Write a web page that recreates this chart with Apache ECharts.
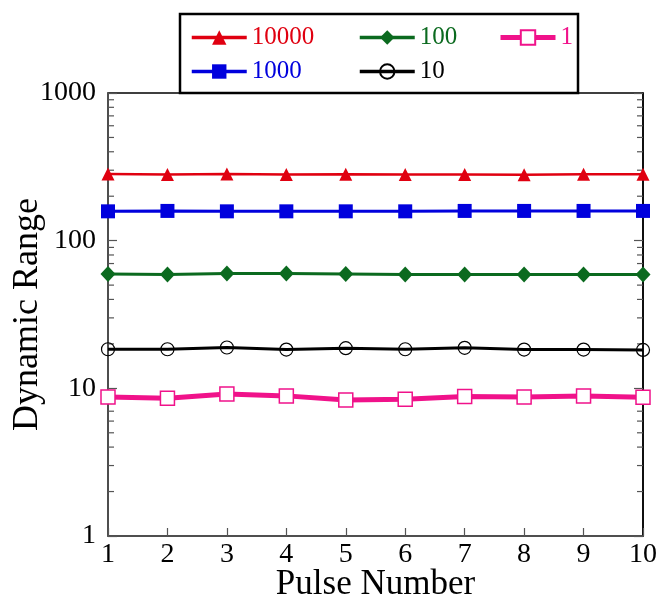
<!DOCTYPE html>
<html>
<head>
<meta charset="utf-8">
<script src="https://cdn.jsdelivr.net/npm/echarts@6/dist/echarts.min.js"></script>
<style>
  html, body { margin: 0; padding: 0; background: #fff; }
  #chart { width: 660px; height: 602px; }
</style>
</head>
<body>
<div id="chart"></div>
<script>
// pulse numbers on the x axis
const pulses = [1, 2, 3, 4, 5, 6, 7, 8, 9, 10]
// dynamic range per pulse, one list per setting
const range10000 = [283, 281, 283, 281, 282, 281, 281, 280, 282, 282]
const range1000 = [158, 159, 158, 158, 158, 158, 159, 159, 159, 159]
const range100 = [59.5, 59, 60, 60, 59.5, 59, 59, 59, 59, 59]
const range10 = [18.4, 18.4, 18.9, 18.3, 18.7, 18.4, 18.8, 18.3, 18.3, 18.2]
const range1 = [8.75, 8.57, 9.16, 8.89, 8.34, 8.44, 8.79, 8.75, 8.89, 8.71]
// minor ticks of the log axis
const minorTicks = [2, 3, 4, 5, 6, 7, 8, 9, 20, 30, 40, 50, 60, 70, 80, 90, 200, 300, 400, 500, 600, 700, 800, 900]

const FONT = 'Liberation Serif'
const AXIS_GREY = '#555'

const chart = echarts.init(document.getElementById('chart'))

// 组合 x/y 数据
const toPoints = arr => arr.map((v, i) => [pulses[i], v])

// 图例的一项
const legendItem = (name, color, width) => ({
  name: name,
  textStyle: { color: color },
  lineStyle: { width: width }
})
const legendBase = {
  orient: 'vertical',
  top: 25,
  padding: 0,
  itemWidth: 55,
  itemHeight: 18,
  itemGap: 9,
  lineStyle: { width: 3.5 },
  textStyle: { fontFamily: FONT, fontSize: 25 }
}

const lineSeries = (name, data, color, symbol, size, width, fill, border) => ({
  name: name,
  type: 'line',
  data: toPoints(data),
  symbol: symbol,
  symbolSize: size,
  showAllSymbol: true,
  lineStyle: { color: color, width: width },
  itemStyle: { color: fill || color, borderColor: color, borderWidth: border || 0, opacity: 1 },
  z: 3
})

const yAxisBase = {
  type: 'log',
  logBase: 10,
  min: 1,
  max: 1000,
  splitLine: { show: false },
  axisTick: { inside: true, length: 9, lineStyle: { color: AXIS_GREY, width: 1.2 } }
}

const option = {
  animation: false,
  backgroundColor: '#fff',
  grid: {
    left: 108,
    right: 17,
    top: 93,
    bottom: 66,
    containLabel: false,
    outerBoundsMode: 'none',
    show: true,
    borderColor: '#000',
    borderWidth: 1.5
  },
  legend: [
    Object.assign({}, legendBase, { left: 190, data: [legendItem('10000', '#e00010', 3.5), legendItem('1000', '#0000dd', 3.5)] }),
    Object.assign({}, legendBase, { left: 358, data: [legendItem('100', '#0b6a1f', 3.5), legendItem('10', '#000', 3.5)] }),
    Object.assign({}, legendBase, { left: 498, data: [legendItem('1', '#f0128a', 5)] })
  ],
  graphic: [
    {
      type: 'rect',
      shape: { x: 180, y: 14, width: 398, height: 79 },
      style: { fill: 'none', stroke: '#000', lineWidth: 2.5 },
      z: 10
    }
  ],
  xAxis: {
    type: 'value',
    min: 1,
    max: 10,
    interval: 1,
    name: 'Pulse Number',
    nameLocation: 'middle',
    nameGap: 31,
    nameMoveOverlap: false,
    nameTextStyle: { fontFamily: FONT, fontSize: 35, color: '#000' },
    splitLine: { show: false },
    axisLine: { lineStyle: { color: AXIS_GREY, width: 1.5 } },
    axisTick: { inside: true, length: 8, lineStyle: { color: AXIS_GREY, width: 1.2 } },
    axisLabel: { fontFamily: FONT, fontSize: 28, color: '#000', margin: 5 }
  },
  yAxis: [
    Object.assign({}, yAxisBase, {
      position: 'left',
      name: 'Dynamic Range',
      nameLocation: 'middle',
      nameGap: 62,
      nameMoveOverlap: false,
      nameTextStyle: { fontFamily: FONT, fontSize: 36, color: '#000' },
      axisLine: { show: true, lineStyle: { color: AXIS_GREY, width: 1.5 } },
      axisLabel: {
        fontFamily: FONT, fontSize: 28, color: '#000', margin: 12,
        formatter: v => String(Math.round(v))
      }
    }),
    Object.assign({}, yAxisBase, {
      position: 'right',
      axisLine: { show: true, lineStyle: { color: '#000', width: 1.5 } },
      axisLabel: { show: false }
    })
  ],
  series: [
    {
      // 对数轴的小刻度 (左右两侧)
      type: 'custom',
      silent: true,
      clip: false,
      z: 1,
      data: minorTicks.map(v => [1, v]),
      renderItem: (params, api) => {
        const l = api.coord([1, api.value(1)])
        const r = api.coord([10, api.value(1)])
        const style = { stroke: AXIS_GREY, lineWidth: 1.2 }
        return {
          type: 'group',
          children: [
            { type: 'line', shape: { x1: l[0], y1: l[1], x2: l[0] + 6, y2: l[1] }, style: style },
            { type: 'line', shape: { x1: r[0] - 6, y1: r[1], x2: r[0], y2: r[1] }, style: style }
          ]
        }
      }
    },
    lineSeries('10000', range10000, '#e00010', 'triangle', 13, 2.5),
    lineSeries('1000', range1000, '#0000dd', 'rect', 14, 3),
    lineSeries('100', range100, '#0b6a1f', 'diamond', [15, 16], 3),
    lineSeries('10', range10, '#000', 'circle', 13, 3, 'rgba(0,0,0,0)', 1.2),
    lineSeries('1', range1, '#f0128a', 'rect', 14, 5, '#fff', 1.5)
  ]
}

chart.setOption(option)
</script>
</body>
</html>
